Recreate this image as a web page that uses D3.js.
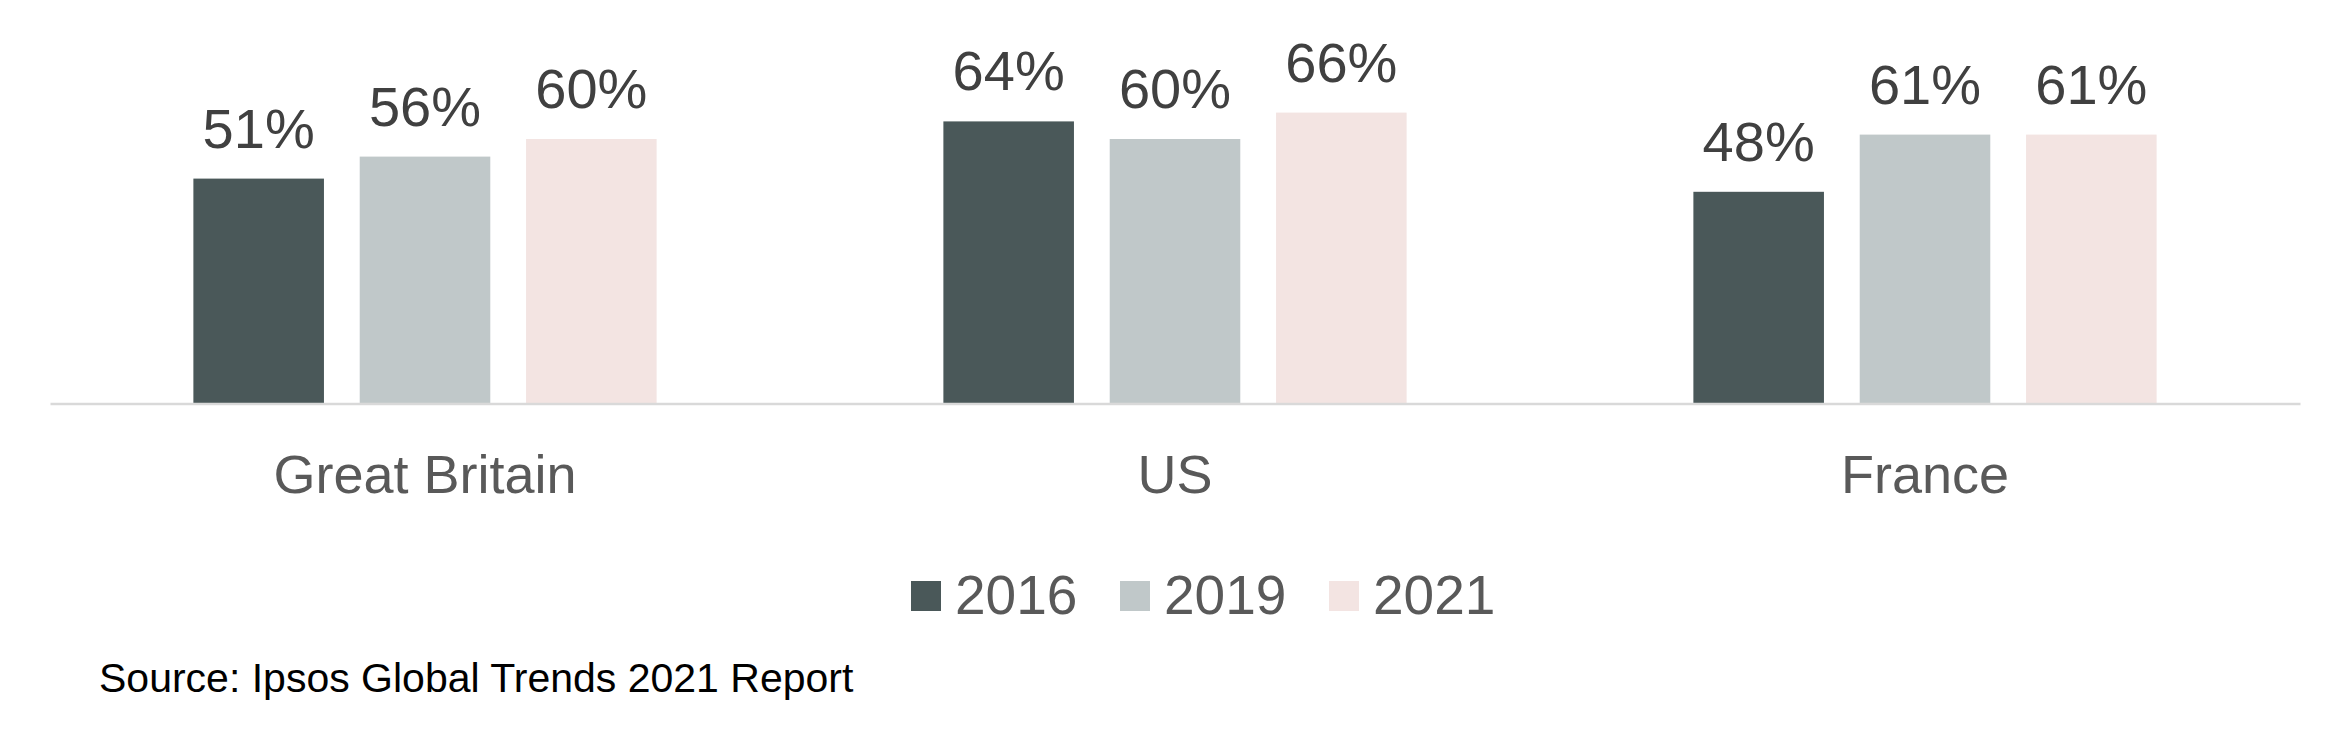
<!DOCTYPE html>
<html>
<head>
<meta charset="utf-8">
<script src="https://cdn.jsdelivr.net/npm/d3@7"></script>
<style>
  html, body { margin: 0; padding: 0; background: #ffffff; }
  svg { display: block; }
  text { font-family: "Liberation Sans", Arial, sans-serif; }
</style>
</head>
<body>
<svg id="chart" width="2351" height="730"></svg>
<script>
// ---- data ----
const categories = ["Great Britain", "US", "France"];
const years = ["2016", "2019", "2021"];
const values2016 = [51, 64, 48];
const values2019 = [56, 60, 61];
const values2021 = [60, 66, 61];
const colors = ["#4a5859", "#c0c8c9", "#f3e4e2"];
const sourceText = "Source: Ipsos Global Trends 2021 Report";

const seriesValues = [values2016, values2019, values2021];
const rows = [];
categories.forEach((c, ci) => {
  years.forEach((y, yi) => rows.push({ cat: c, year: y, yi, value: seriesValues[yi][ci] }));
});

const svg = d3.select("#chart");

const x = d3.scaleBand().domain(categories).range([50, 2300]).paddingInner(0).paddingOuter(0);
const xInner = d3.scaleBand().domain(years).range([-249.5, 249.5]).paddingInner(0.215).paddingOuter(0.1075);
const y = d3.scaleLinear().domain([0, 100]).range([403, -37]);

// bars
svg.append("g").selectAll("rect").data(rows).join("rect")
  .attr("x", d => x(d.cat) + x.bandwidth() / 2 + xInner(d.year))
  .attr("y", d => y(d.value))
  .attr("width", xInner.bandwidth())
  .attr("height", d => y(0) - y(d.value))
  .attr("fill", d => colors[d.yi]);

// value labels
svg.append("g").selectAll("text").data(rows).join("text")
  .attr("x", d => x(d.cat) + x.bandwidth() / 2 + xInner(d.year) + xInner.bandwidth() / 2)
  .attr("y", d => y(d.value) - 31)
  .attr("text-anchor", "middle")
  .attr("font-size", 56)
  .attr("fill", "#404040")
  .text(d => d.value + "%");

// x axis
const axis = svg.append("g").attr("transform", "translate(0,403.5)")
  .call(d3.axisBottom(x).tickSize(0).tickPadding(0));
axis.select(".domain").attr("stroke", "#d9d9d9").attr("stroke-width", 2.4);
axis.selectAll(".tick text")
  .attr("font-family", "Liberation Sans, Arial, sans-serif")
  .attr("font-size", 54)
  .attr("fill", "#595959")
  .attr("dy", null)
  .attr("y", 89.5);

// legend
const legend = svg.append("g").selectAll("g").data(years).join("g")
  .attr("transform", (d, i) => `translate(${911 + i * 209},0)`);
legend.append("rect")
  .attr("x", 0).attr("y", 581).attr("width", 30).attr("height", 30)
  .attr("fill", (d, i) => colors[i]);
legend.append("text")
  .attr("x", 44).attr("y", 614)
  .attr("font-size", 55)
  .attr("fill", "#595959")
  .text(d => d);

// source
svg.append("text")
  .attr("x", 99).attr("y", 692)
  .attr("font-size", 41)
  .attr("fill", "#000000")
  .text(sourceText);
</script>
</body>
</html>
